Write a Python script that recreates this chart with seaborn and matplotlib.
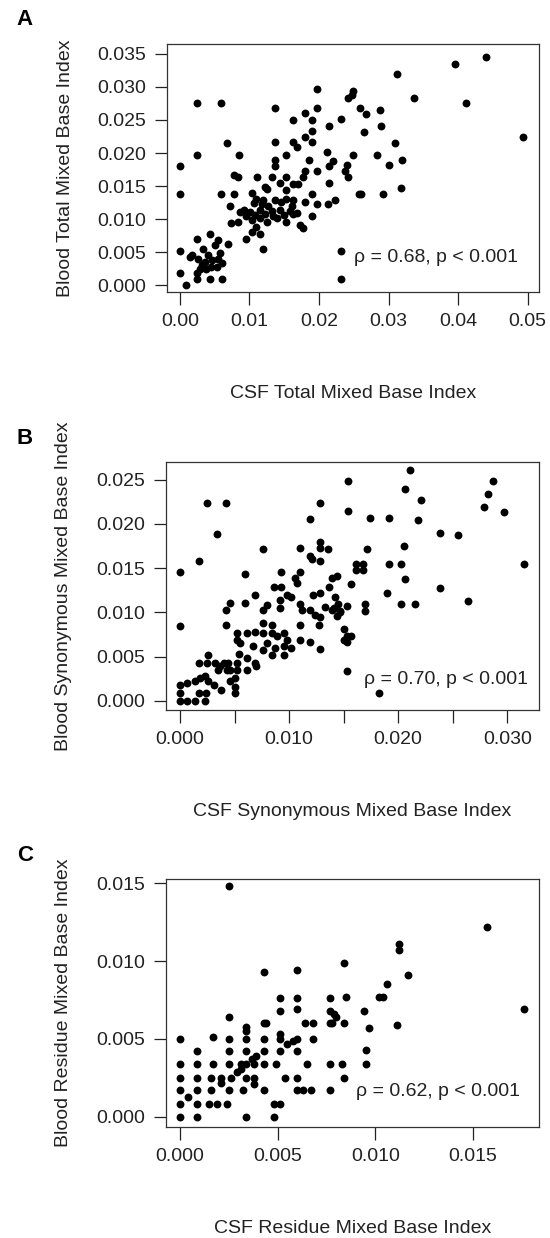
import numpy as np
import pandas as pd
import matplotlib
matplotlib.use("Agg")
import matplotlib.pyplot as plt
import seaborn as sns

# ---------------- data ----------------
# Panel A: CSF vs Blood Total Mixed Base Index
a_csf = [0.0197, 0.0242, 0.0025, 0.0059, 0.0137, 0.0197, 0.0180, 0.0162, 0.0190, 0.0232,
         0.0215, 0.0190, 0.0180, 0.0068, 0.0137, 0.0162, 0.0190, 0.0168, 0.0025, 0.0085,
         0.0153, 0.0211, 0.0000, 0.0137, 0.0137, 0.0185, 0.0220, 0.0215, 0.0180, 0.0197,
         0.0077, 0.0084, 0.0111, 0.0132, 0.0153, 0.0177, 0.0122, 0.0125, 0.0144, 0.0162,
         0.0170, 0.0153, 0.0215, 0.0000, 0.0059, 0.0077, 0.0103, 0.0190, 0.0120, 0.0137,
         0.0153, 0.0163, 0.0180, 0.0197, 0.0223, 0.0213, 0.0072, 0.0086, 0.0101, 0.0115,
         0.0127, 0.0144, 0.0161, 0.0168, 0.0074, 0.0084, 0.0103, 0.0115, 0.0134, 0.0149,
         0.0190, 0.0110, 0.0103, 0.0115, 0.0177, 0.0173, 0.0095, 0.0120, 0.0025, 0.0043,
         0.0055, 0.0069, 0.0000, 0.0014, 0.0026, 0.0036, 0.0046, 0.0058, 0.0053, 0.0029,
         0.0038, 0.0060, 0.0000, 0.0025, 0.0043, 0.0060, 0.0025, 0.0009, 0.0232, 0.0232,
         0.0440, 0.0396, 0.0312, 0.0249, 0.0247, 0.0336, 0.0412, 0.0259, 0.0268, 0.0288,
         0.0289, 0.0265, 0.0494, 0.0309, 0.0249, 0.0283, 0.0319, 0.0301, 0.0240, 0.0237,
         0.0242, 0.0318, 0.0257, 0.0260, 0.0292,
         0.0095, 0.0108, 0.0123, 0.0132, 0.0140, 0.0152, 0.0158, 0.0125, 0.0118, 0.0106,
         0.0110, 0.0145, 0.0162, 0.0092, 0.0018, 0.0032, 0.0045, 0.0055, 0.0040, 0.0050,
         0.0033]
a_blood = [0.0297, 0.0284, 0.0275, 0.0275, 0.0268, 0.0268, 0.0261, 0.0250, 0.0250, 0.0251,
           0.0241, 0.0234, 0.0224, 0.0215, 0.0216, 0.0216, 0.0216, 0.0209, 0.0197, 0.0197,
           0.0197, 0.0202, 0.0181, 0.0190, 0.0180, 0.0190, 0.0188, 0.0180, 0.0172, 0.0172,
           0.0167, 0.0164, 0.0164, 0.0164, 0.0164, 0.0164, 0.0149, 0.0146, 0.0154, 0.0153,
           0.0153, 0.0144, 0.0154, 0.0138, 0.0138, 0.0138, 0.0139, 0.0138, 0.0129, 0.0129,
           0.0130, 0.0129, 0.0126, 0.0123, 0.0129, 0.0123, 0.0120, 0.0111, 0.0111, 0.0114,
           0.0119, 0.0114, 0.0119, 0.0109, 0.0094, 0.0096, 0.0098, 0.0101, 0.0104, 0.0106,
           0.0104, 0.0088, 0.0081, 0.0078, 0.0086, 0.0091, 0.0069, 0.0054, 0.0069, 0.0078,
           0.0068, 0.0062, 0.0051, 0.0043, 0.0040, 0.0035, 0.0038, 0.0048, 0.0028, 0.0025,
           0.0024, 0.0033, 0.0018, 0.0018, 0.0009, 0.0009, 0.0009, 0.0000, 0.0052, 0.0009,
           0.0345, 0.0335, 0.0320, 0.0294, 0.0288, 0.0284, 0.0275, 0.0268, 0.0259, 0.0265,
           0.0241, 0.0232, 0.0224, 0.0215, 0.0197, 0.0197, 0.0190, 0.0182, 0.0182, 0.0172,
           0.0164, 0.0147, 0.0138, 0.0138, 0.0138,
           0.0105, 0.0106, 0.0108, 0.0112, 0.0101, 0.0096, 0.0112, 0.0095, 0.0123, 0.0125,
           0.0131, 0.0126, 0.0108, 0.0113, 0.0045, 0.0030, 0.0028, 0.0040, 0.0045, 0.0060,
           0.0055]

# Panel B: CSF vs Blood Synonymous Mixed Base Index
b_csf = [0.0025, 0.0042, 0.0034, 0.0017, 0.0000, 0.0000, 0.0076, 0.0060, 0.0128, 0.0119,
         0.0128, 0.0128, 0.0136, 0.0110, 0.0119, 0.0121, 0.0128, 0.0093, 0.0110, 0.0105,
         0.0107, 0.0086, 0.0093, 0.0069, 0.0098, 0.0102, 0.0139, 0.0144, 0.0137, 0.0046,
         0.0060, 0.0042, 0.0080, 0.0076, 0.0092, 0.0092, 0.0110, 0.0112, 0.0122, 0.0128,
         0.0119, 0.0124, 0.0133, 0.0139, 0.0147, 0.0128, 0.0042, 0.0076, 0.0084, 0.0110,
         0.0127, 0.0052, 0.0052, 0.0055, 0.0061, 0.0069, 0.0076, 0.0084, 0.0089, 0.0080,
         0.0087, 0.0095, 0.0098, 0.0095, 0.0102, 0.0110, 0.0119, 0.0128, 0.0084, 0.0095,
         0.0067, 0.0076, 0.0054, 0.0061, 0.0069, 0.0044, 0.0052, 0.0061, 0.0070, 0.0017,
         0.0025, 0.0032, 0.0040, 0.0026, 0.0035, 0.0043, 0.0052,
         0.0000, 0.0006, 0.0014, 0.0018, 0.0023, 0.0026, 0.0031, 0.0038, 0.0046, 0.0000,
         0.0006, 0.0014, 0.0023, 0.0000, 0.0017, 0.0024, 0.0050, 0.0050, 0.0050, 0.0037,
         0.0046, 0.0153, 0.0182, 0.0150,
         0.0211, 0.0287, 0.0154, 0.0206, 0.0282, 0.0221, 0.0279, 0.0297, 0.0154, 0.0174,
         0.0192, 0.0218, 0.0238, 0.0255, 0.0171, 0.0205, 0.0315, 0.0161, 0.0168, 0.0161,
         0.0168, 0.0192, 0.0203, 0.0206, 0.0157, 0.0190, 0.0238, 0.0264, 0.0203, 0.0215,
         0.0170, 0.0170, 0.0142, 0.0145, 0.0141, 0.0147, 0.0153, 0.0144, 0.0150, 0.0153,
         0.0157, 0.0153]
b_blood = [0.0224, 0.0224, 0.0189, 0.0158, 0.0146, 0.0085, 0.0172, 0.0143, 0.0224, 0.0206,
           0.0180, 0.0173, 0.0172, 0.0173, 0.0164, 0.0160, 0.0158, 0.0146, 0.0146, 0.0139,
           0.0133, 0.0129, 0.0129, 0.0120, 0.0120, 0.0118, 0.0139, 0.0141, 0.0129, 0.0111,
           0.0111, 0.0103, 0.0109, 0.0103, 0.0114, 0.0105, 0.0110, 0.0103, 0.0120, 0.0122,
           0.0103, 0.0097, 0.0106, 0.0103, 0.0101, 0.0095, 0.0086, 0.0088, 0.0086, 0.0086,
           0.0086, 0.0077, 0.0069, 0.0065, 0.0077, 0.0078, 0.0077, 0.0077, 0.0073, 0.0066,
           0.0060, 0.0077, 0.0069, 0.0062, 0.0060, 0.0069, 0.0067, 0.0059, 0.0052, 0.0052,
           0.0062, 0.0058, 0.0053, 0.0048, 0.0043, 0.0043, 0.0043, 0.0035, 0.0039, 0.0043,
           0.0043, 0.0043, 0.0043, 0.0052, 0.0035, 0.0035, 0.0035,
           0.0018, 0.0020, 0.0022, 0.0026, 0.0028, 0.0022, 0.0018, 0.0012, 0.0022, 0.0000,
           0.0000, 0.0000, 0.0000, 0.0009, 0.0009, 0.0009, 0.0026, 0.0016, 0.0009, 0.0039,
           0.0035, 0.0034, 0.0009, 0.0069,
           0.0261, 0.0248, 0.0248, 0.0239, 0.0234, 0.0227, 0.0219, 0.0214, 0.0215, 0.0207,
           0.0207, 0.0205, 0.0190, 0.0187, 0.0172, 0.0175, 0.0155, 0.0155, 0.0155, 0.0148,
           0.0148, 0.0155, 0.0155, 0.0138, 0.0132, 0.0122, 0.0128, 0.0113, 0.0110, 0.0110,
           0.0110, 0.0102, 0.0118, 0.0110, 0.0105, 0.0102, 0.0107, 0.0096, 0.0081, 0.0073,
           0.0073, 0.0067]

# Panel C: CSF vs Blood Residue Mixed Base Index
c_csf = [0.0000, 0.00085, 0.0034, 0.0048,
         0.0000, 0.00085, 0.0015, 0.0019, 0.0024, 0.0048, 0.0051,
         0.0004,
         0.0000, 0.00085, 0.0016, 0.0025, 0.0032, 0.0043, 0.0060, 0.0063, 0.0067, 0.0077,
         0.0021, 0.0038,
         0.0000, 0.00085, 0.0016, 0.0021, 0.0026, 0.0034, 0.0038, 0.0054, 0.0060, 0.0084,
         0.0000, 0.00085, 0.0017, 0.0025, 0.0031, 0.0034, 0.0038, 0.0043, 0.0049, 0.0065,
         0.0077, 0.0083, 0.0095,
         0.0029, 0.0031, 0.0037, 0.0039,
         0.00085, 0.0025, 0.0034, 0.0043, 0.0051, 0.0060, 0.0095,
         0.0055, 0.0058, 0.0051,
         0.0000, 0.0017, 0.0025, 0.0034, 0.0043, 0.0051, 0.0060, 0.0068,
         0.0034, 0.0034,
         0.0043, 0.0044, 0.0064, 0.0068, 0.0077, 0.0078, 0.0084, 0.0097, 0.0111, 0.0025,
         0.0051, 0.0060, 0.0077, 0.0079, 0.0094, 0.0080,
         0.0051, 0.0060, 0.0077, 0.0085, 0.0102, 0.0104,
         0.0043, 0.0060, 0.0084, 0.0117, 0.0106, 0.0112, 0.0112, 0.0157, 0.0176, 0.0025]
c_blood = [0.0000, 0.0000, 0.0000, 0.0000,
           0.00083, 0.00083, 0.00083, 0.00083, 0.00083, 0.00083, 0.00083,
           0.0013,
           0.0017, 0.0017, 0.0017, 0.0017, 0.0017, 0.0017, 0.0017, 0.0017, 0.0017, 0.0017,
           0.0022, 0.0021,
           0.0025, 0.0025, 0.0025, 0.0025, 0.0025, 0.0025, 0.0025, 0.0025, 0.0025, 0.0025,
           0.0034, 0.0034, 0.0034, 0.0034, 0.0034, 0.0034, 0.0034, 0.0034, 0.0034, 0.0034,
           0.0034, 0.0034, 0.0034,
           0.0029, 0.0031, 0.0037, 0.0039,
           0.0042, 0.0042, 0.0042, 0.0042, 0.0042, 0.0042, 0.0043,
           0.0047, 0.0049, 0.0053,
           0.0050, 0.0051, 0.0050, 0.0050, 0.0050, 0.0050, 0.0050, 0.0050,
           0.0058, 0.0055,
           0.0060, 0.0060, 0.0060, 0.0060, 0.0060, 0.0060, 0.0060, 0.0057, 0.0059, 0.0064,
           0.0068, 0.0069, 0.0068, 0.0066, 0.0068, 0.0064,
           0.0076, 0.0076, 0.0076, 0.0077, 0.0077, 0.0077,
           0.0093, 0.0094, 0.0099, 0.0091, 0.0085, 0.0111, 0.0107, 0.0122, 0.0069, 0.0148]

# axis ticks / labels
a_xticks = [0.00, 0.01, 0.02, 0.03, 0.04, 0.05]
a_xticklabels = ["0.00", "0.01", "0.02", "0.03", "0.04", "0.05"]
a_yticks = [0.000, 0.005, 0.010, 0.015, 0.020, 0.025, 0.030, 0.035]
a_yticklabels = ["0.000", "0.005", "0.010", "0.015", "0.020", "0.025", "0.030", "0.035"]
b_xticks = [0.000, 0.005, 0.010, 0.015, 0.020, 0.025, 0.030]
b_xticklabels = ["0.000", "", "0.010", "", "0.020", "", "0.030"]
b_yticks = [0.000, 0.005, 0.010, 0.015, 0.020, 0.025]
b_yticklabels = ["0.000", "0.005", "0.010", "0.015", "0.020", "0.025"]
c_xticks = [0.000, 0.005, 0.010, 0.015]
c_xticklabels = ["0.000", "0.005", "0.010", "0.015"]
c_yticks = [0.000, 0.005, 0.010, 0.015]
c_yticklabels = ["0.000", "0.005", "0.010", "0.015"]

panel_letters = ["A", "B", "C"]
xlabels = ["CSF Total Mixed Base Index", "CSF Synonymous Mixed Base Index",
           "CSF Residue Mixed Base Index"]
ylabels = ["Blood Total Mixed Base Index", "Blood Synonymous Mixed Base Index",
           "Blood Residue Mixed Base Index"]
stat_texts = ["\u03c1 = 0.68, p < 0.001", "\u03c1 = 0.70, p < 0.001",
              "\u03c1 = 0.62, p < 0.001"]

# ---------------- styling ----------------
sns.set_theme(style="ticks")
plt.rcParams["font.family"] = ["Liberation Sans", "DejaVu Sans"]
plt.rcParams["axes.edgecolor"] = "#333333"
plt.rcParams["axes.linewidth"] = 0.9

fig = plt.figure(figsize=(5.5, 12.38), dpi=100)
fig.patch.set_facecolor("white")

positions = [[0.3036, 0.7641, 0.6764, 0.2003],
             [0.3018, 0.4265, 0.6780, 0.2003],
             [0.3018, 0.0897, 0.6780, 0.2003]]
xlims = [(-0.00187, 0.05165), (-0.00128, 0.0329), (-0.00072, 0.01838)]
ylims = [(-0.00106, 0.0365), (-0.00102, 0.0270), (-0.00064, 0.01526)]
stat_pos = [(0.944, 0.141), (0.971, 0.121), (0.949, 0.141)]
letter_y = [0.984, 0.646, 0.309]

datasets = [(a_csf, a_blood, a_xticks, a_xticklabels, a_yticks, a_yticklabels),
            (b_csf, b_blood, b_xticks, b_xticklabels, b_yticks, b_yticklabels),
            (c_csf, c_blood, c_xticks, c_xticklabels, c_yticks, c_yticklabels)]

for i, (xs, ys, xt, xtl, yt, ytl) in enumerate(datasets):
    ax = fig.add_axes(positions[i])
    df = pd.DataFrame({"csf": xs, "blood": ys})
    sns.scatterplot(data=df, x="csf", y="blood", ax=ax, color="black",
                    s=32, linewidth=0, legend=False)
    ax.set_xlim(*xlims[i])
    ax.set_ylim(*ylims[i])
    ax.set_xticks(xt)
    ax.set_xticklabels(xtl)
    ax.set_yticks(yt)
    ax.set_yticklabels(ytl)
    ax.tick_params(direction="out", length=9, width=0.9, pad=6,
                   labelsize=14, colors="#222222")
    for sp in ax.spines.values():
        sp.set_visible(True)
        sp.set_color("#333333")
    ax.set_xlabel(xlabels[i], fontsize=14, color="#222222", va="center")
    ax.set_ylabel(ylabels[i], fontsize=14, color="#222222", va="center")
    ax.xaxis.set_label_coords(0.5, -0.41)
    ax.yaxis.set_label_coords(-0.274, 0.5)
    ax.text(stat_pos[i][0], stat_pos[i][1], stat_texts[i], transform=ax.transAxes,
            ha="right", va="center", fontsize=14, color="#222222")
    ax.grid(False)
    fig.text(0.045, letter_y[i], panel_letters[i], fontsize=16, fontweight="bold",
             ha="center", va="center", color="black")

fig.savefig("out.png", dpi=100, facecolor="white")
